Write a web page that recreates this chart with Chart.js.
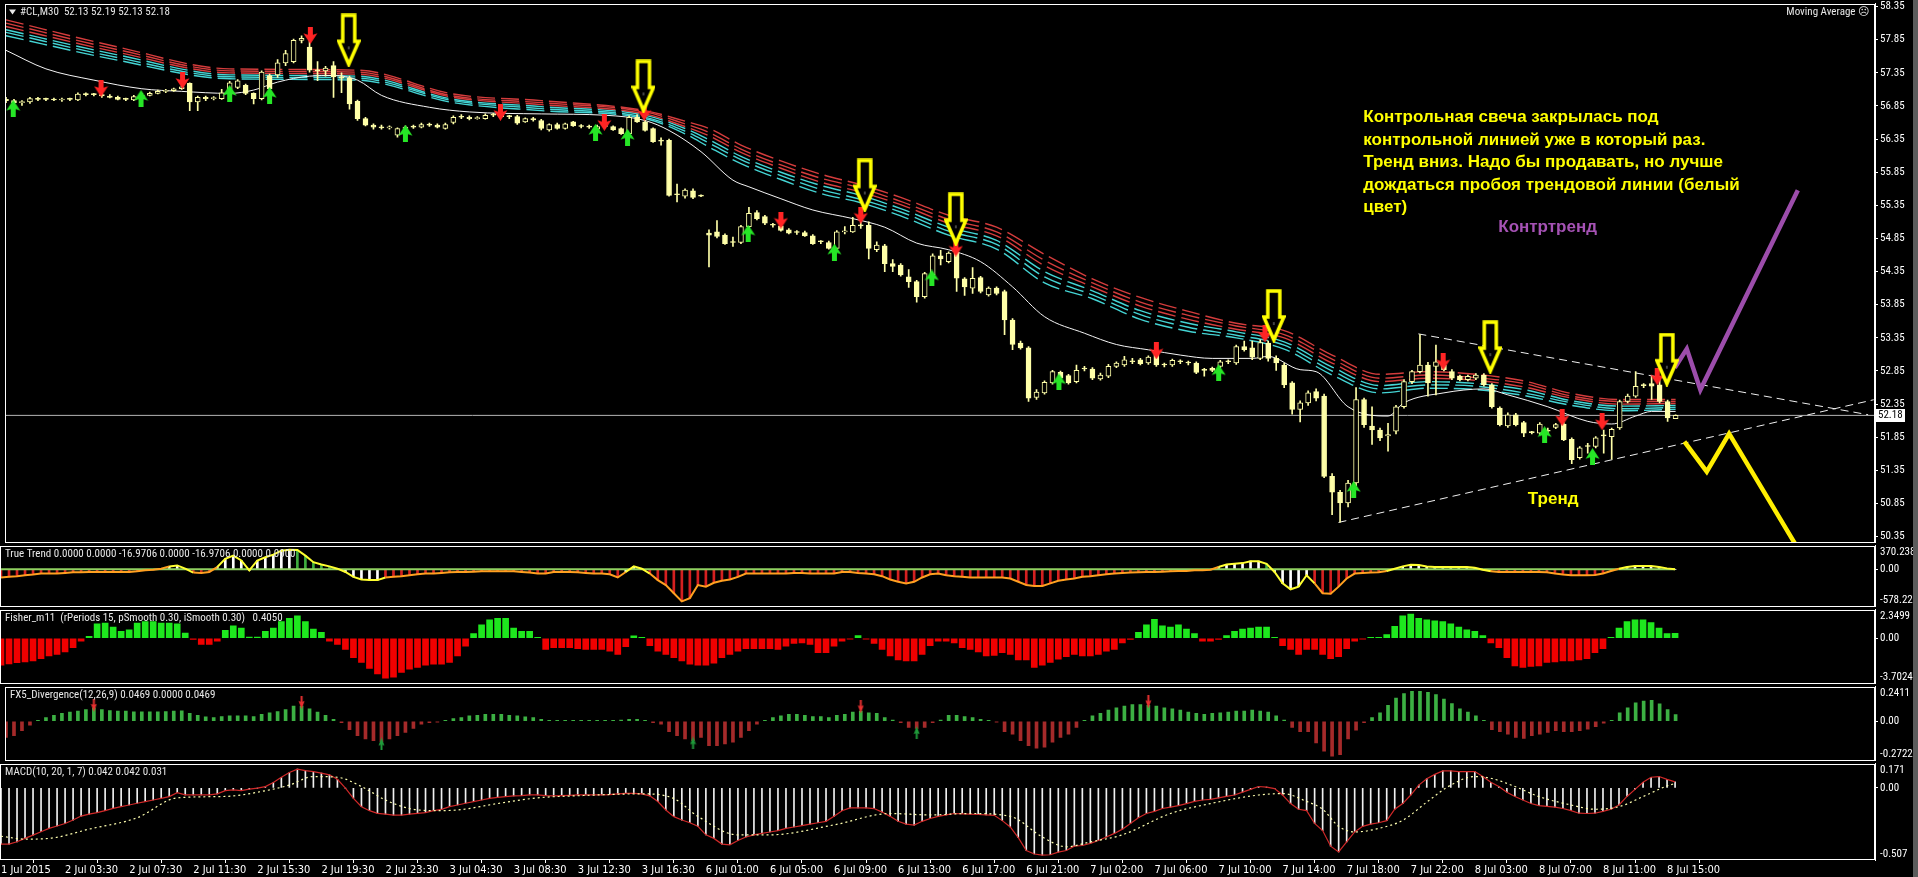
<!DOCTYPE html>
<html>
<head>
<meta charset="utf-8">
<script src="https://cdn.jsdelivr.net/npm/chart.js@4.4.1/dist/chart.umd.min.js"></script>
<style>
html, body { margin: 0; background: #000; overflow: hidden; }
#wrap { position: relative; width: 1918px; height: 877px; overflow: hidden; background: #000; }
#wrap canvas { position: absolute; left: 0; }
#edge { position: absolute; left: 1913px; top: 0; width: 5px; height: 877px; background: #5c5c5c; }
</style>
</head>
<body>
<div id="wrap">
  <canvas id="cMain" width="1918" height="556" style="top:-5px"></canvas>
  <canvas id="cTT" width="1918" height="78" style="top:537px"></canvas>
  <canvas id="cFisher" width="1918" height="91" style="top:601px"></canvas>
  <canvas id="cFx5" width="1918" height="91" style="top:678px"></canvas>
  <canvas id="cMacd" width="1918" height="122" style="top:755px"></canvas>
  <div id="edge"></div>
</div>
<script>
// ---- time axis (one label every 8 bars of M30) ----
const timeLabels = ['1 Jul 2015', '2 Jul 03:30', '2 Jul 07:30', '2 Jul 11:30', '2 Jul 15:30', '2 Jul 19:30',
  '2 Jul 23:30', '3 Jul 04:30', '3 Jul 08:30', '3 Jul 12:30', '3 Jul 16:30', '6 Jul 01:00', '6 Jul 05:00',
  '6 Jul 09:00', '6 Jul 13:00', '6 Jul 17:00', '6 Jul 21:00', '7 Jul 02:00', '7 Jul 06:00', '7 Jul 10:00',
  '7 Jul 14:00', '7 Jul 18:00', '7 Jul 22:00', '8 Jul 03:00', '8 Jul 07:00', '8 Jul 11:00', '8 Jul 15:00'];
const barsPerLabel = 8;

// ---- #CL,M30 candles ----
const opens = [
  56.95,56.93,56.90,56.91,56.96,56.95,56.95,56.94,56.95,56.94,
  57.03,57.02,57.02,57.00,56.98,56.95,56.94,56.96,57.01,57.04,
  57.07,57.08,57.11,57.19,56.91,56.98,56.96,56.96,57.10,57.13,
  57.16,57.04,56.96,57.31,57.32,57.50,57.52,57.84,57.74,57.39,
  57.38,57.46,57.29,57.27,56.92,56.66,56.56,56.53,56.52,56.41,
  56.51,56.53,56.53,56.57,56.56,56.51,56.60,56.68,56.68,56.66,
  56.66,56.71,56.71,56.69,56.69,56.61,56.66,56.63,56.49,56.57,
  56.51,56.61,56.55,56.54,56.50,56.54,56.54,56.51,56.43,56.68,
  56.61,56.51,56.32,56.33,55.51,55.49,55.57,55.49,54.93,54.95,
  54.90,54.79,54.79,55.03,55.24,55.18,55.05,55.04,54.98,54.94,
  54.94,54.89,54.80,54.79,54.70,54.95,54.95,55.04,55.05,54.68,
  54.74,54.47,54.45,54.27,54.20,53.97,54.30,54.59,54.50,54.65,
  54.24,54.10,54.26,54.00,54.10,54.05,53.62,53.27,53.20,52.45,
  52.52,52.67,52.83,52.78,52.69,52.88,52.88,52.73,52.77,52.92,
  52.94,52.99,53.02,52.97,53.10,52.94,52.94,52.99,52.97,52.97,
  52.86,52.89,52.92,52.99,52.97,53.22,53.20,53.04,53.27,53.04,
  52.94,52.67,52.27,52.37,52.54,52.47,51.26,51.02,50.86,51.16,
  52.42,52.02,51.96,51.87,51.94,52.31,52.69,52.84,52.94,52.92,
  52.94,52.84,52.77,52.72,52.74,52.79,52.64,52.29,52.02,52.19,
  52.07,51.92,51.91,51.94,52.00,52.05,51.82,51.54,51.71,51.71,
  51.87,51.86,51.99,52.39,52.47,52.63,52.66,52.64,52.39,52.13];
const highs = [
  56.98,56.95,56.93,56.98,56.98,56.97,56.97,56.97,56.97,57.05,
  57.05,57.04,57.05,57.02,57.00,56.97,57.01,57.04,57.06,57.09,
  57.10,57.12,57.17,57.20,57.00,57.00,56.99,57.10,57.22,57.25,
  57.18,57.05,57.38,57.33,57.55,57.69,57.86,57.91,57.88,57.52,
  57.45,57.52,57.35,57.30,56.94,56.68,56.58,56.56,56.55,56.52,
  56.55,56.56,56.59,56.59,56.58,56.59,56.70,56.72,56.70,56.69,
  56.73,56.74,56.73,56.71,56.71,56.67,56.68,56.65,56.58,56.59,
  56.59,56.62,56.57,56.56,56.56,56.56,56.55,56.52,56.70,56.72,
  56.63,56.52,56.37,56.35,55.67,55.60,55.60,55.51,54.98,55.12,
  54.92,54.87,55.05,55.32,55.27,55.20,55.08,55.06,55.00,54.97,
  54.96,54.91,54.82,54.81,54.97,55.03,55.17,55.10,55.10,54.80,
  54.76,54.53,54.47,54.38,54.22,54.34,54.62,54.67,54.65,54.67,
  54.26,54.41,54.28,54.12,54.12,54.07,53.64,53.30,53.22,52.57,
  52.70,52.86,52.85,52.80,52.94,52.92,52.90,52.82,52.95,52.99,
  53.07,53.04,53.04,53.08,53.12,52.97,53.03,53.02,53.00,52.99,
  52.89,52.91,53.01,53.02,53.24,53.30,53.30,53.32,53.30,53.08,
  52.97,52.69,52.40,52.55,52.58,52.50,51.30,51.05,51.20,52.60,
  52.44,52.31,51.99,52.06,52.33,52.72,52.86,53.40,52.98,53.24,
  52.97,52.87,52.79,52.79,52.81,52.81,52.66,52.31,52.22,52.21,
  52.09,51.94,52.07,51.99,52.06,52.07,51.84,51.71,51.76,51.86,
  51.96,51.99,52.41,52.50,52.84,52.66,52.77,52.77,52.41,52.19];
const lows = [
  56.90,56.88,56.86,56.89,56.93,56.93,56.93,56.92,56.93,56.93,
  57.00,57.00,56.98,56.97,56.94,56.93,56.93,56.94,57.00,57.03,
  57.05,57.07,57.10,56.78,56.78,56.93,56.94,56.95,57.08,57.11,
  57.02,56.88,56.94,57.09,57.28,57.46,57.50,57.80,57.36,57.23,
  57.30,56.98,57.05,56.80,56.63,56.55,56.50,56.50,56.50,56.38,
  56.48,56.51,56.52,56.54,56.52,56.50,56.58,56.66,56.64,56.65,
  56.65,56.69,56.68,56.66,56.57,56.60,56.62,56.49,56.47,56.50,
  56.50,56.54,56.52,56.51,56.48,56.52,56.48,56.42,56.42,56.60,
  56.47,56.30,56.26,55.49,55.40,55.46,55.45,55.48,54.42,54.86,
  54.76,54.73,54.77,55.00,55.13,55.06,55.02,54.96,54.92,54.91,
  54.88,54.76,54.77,54.69,54.68,54.92,54.94,55.00,54.54,54.65,
  54.35,54.35,54.28,54.11,53.89,53.95,54.28,54.45,54.48,54.05,
  53.99,54.02,54.03,53.98,54.00,53.40,53.17,53.18,52.39,52.42,
  52.50,52.65,52.72,52.65,52.67,52.85,52.72,52.71,52.75,52.90,
  52.92,52.96,52.94,52.95,52.92,52.91,52.92,52.96,52.94,52.81,
  52.77,52.84,52.90,52.96,52.95,53.15,53.02,53.02,53.00,52.86,
  52.60,52.20,52.08,52.33,52.40,51.24,50.68,50.57,50.80,51.12,
  52.00,51.74,51.80,51.64,51.90,52.29,52.66,52.82,52.47,52.49,
  52.85,52.72,52.70,52.70,52.72,52.62,52.29,52.02,52.00,52.02,
  51.86,51.90,51.89,51.90,51.98,51.80,51.45,51.52,51.61,51.69,
  51.61,51.52,51.97,52.37,52.45,52.60,52.42,52.37,52.09,52.13];
const closes = [
  56.93,56.90,56.91,56.96,56.95,56.95,56.94,56.95,56.95,57.03,
  57.02,57.02,57.00,56.98,56.95,56.95,56.99,57.01,57.04,57.07,
  57.08,57.11,57.14,56.91,56.98,56.96,56.97,57.05,57.20,57.23,
  57.04,56.96,57.36,57.11,57.50,57.64,57.84,57.87,57.39,57.38,
  57.42,57.29,57.27,56.88,56.66,56.56,56.53,56.52,56.53,56.51,
  56.53,56.53,56.57,56.56,56.53,56.57,56.68,56.68,56.66,56.67,
  56.71,56.71,56.69,56.69,56.59,56.66,56.64,56.51,56.57,56.51,
  56.58,56.55,56.54,56.53,56.54,56.54,56.49,56.43,56.68,56.61,
  56.48,56.31,56.32,55.50,55.51,55.58,55.47,55.49,54.90,54.88,
  54.77,54.79,55.03,55.23,55.15,55.08,55.05,54.97,54.93,54.94,
  54.89,54.77,54.80,54.70,54.95,54.96,55.05,55.04,54.70,54.75,
  54.47,54.43,54.30,54.20,53.97,54.32,54.59,54.54,54.63,54.25,
  54.12,54.25,54.05,54.10,54.02,53.62,53.25,53.20,52.44,52.53,
  52.68,52.84,52.74,52.67,52.86,52.88,52.74,52.79,52.92,52.97,
  53.02,52.99,52.96,53.06,52.94,52.94,53.01,52.99,52.97,52.83,
  52.86,52.86,52.99,52.99,53.22,53.17,53.06,53.28,53.04,52.97,
  52.64,52.27,52.37,52.52,52.44,51.26,51.02,50.86,51.16,52.42,
  52.04,51.96,51.84,51.89,52.31,52.69,52.84,52.94,52.67,52.99,
  52.87,52.74,52.72,52.77,52.79,52.64,52.31,52.04,52.19,52.04,
  51.91,51.92,52.05,51.94,52.04,51.81,51.51,51.69,51.71,51.84,
  51.87,51.97,52.39,52.47,52.62,52.63,52.62,52.39,52.14,52.18];

// ---- Moving Average ribbon (3 red + 3 cyan), sampled bars ----
const ribbonIdx = [0,14,28,44,56,67,80,85,88,92,97,102,107,112,118,124,130,136,142,148,154,160,166,172,178,184,190,196,202,209];
const ribbonRed1 = [58.15,57.74,57.41,57.39,57.03,56.93,56.78,56.62,56.51,56.26,56.02,55.82,55.66,55.47,55.20,55.02,54.61,54.24,53.96,53.75,53.57,53.46,53.09,52.80,52.84,52.80,52.70,52.51,52.42,52.42];
const ribbonRed2 = [58.10,57.70,57.38,57.36,57.00,56.90,56.76,56.58,56.45,56.20,55.96,55.76,55.61,55.41,55.14,54.95,54.52,54.18,53.89,53.69,53.53,53.40,53.03,52.74,52.79,52.75,52.66,52.47,52.39,52.39];
const ribbonRed3 = [58.05,57.66,57.35,57.33,56.98,56.87,56.73,56.54,56.40,56.15,55.91,55.70,55.55,55.36,55.08,54.89,54.44,54.12,53.83,53.63,53.48,53.35,52.97,52.69,52.74,52.71,52.61,52.44,52.35,52.36];
const ribbonCyan1 = [58.00,57.62,57.32,57.30,56.95,56.84,56.71,56.51,56.34,56.09,55.85,55.65,55.50,55.30,55.02,54.82,54.35,54.06,53.76,53.57,53.44,53.29,52.91,52.63,52.69,52.66,52.57,52.40,52.32,52.33];
const ribbonCyan2 = [57.96,57.58,57.29,57.27,56.93,56.81,56.68,56.47,56.29,56.04,55.80,55.59,55.44,55.25,54.96,54.76,54.27,54.00,53.70,53.51,53.39,53.24,52.85,52.58,52.64,52.62,52.52,52.37,52.28,52.30];
const ribbonCyan3 = [57.91,57.54,57.26,57.24,56.90,56.78,56.66,56.43,56.23,55.98,55.74,55.53,55.39,55.19,54.90,54.69,54.18,53.94,53.63,53.45,53.35,53.18,52.79,52.52,52.59,52.57,52.48,52.33,52.25,52.27];

// ---- white moving average ----
const maIdx = [0,5,11,17,22,28,31,34,38,41,44,47,53,58,67,75,80,83,87,91,93,97,101,106,110,114,118,122,126,130,135,139,143,147,151,156,158,162,164,168,173,175,180,185,188,193,198,201,204,206,209];
const maVals = [57.69,57.41,57.24,57.11,57.07,57.04,57.09,57.21,57.30,57.31,57.24,57.01,56.83,56.76,56.73,56.71,56.63,56.48,56.16,55.73,55.63,55.45,55.28,55.15,55.02,54.78,54.68,54.50,54.12,53.67,53.42,53.25,53.17,53.09,53.04,53.04,53.07,52.87,52.84,52.31,52.17,52.37,52.52,52.58,52.49,52.31,52.09,52.05,52.17,52.24,52.24];

// ---- signal arrows on price [bar, price] ----
const sellArrows = [[11.9,57.115],[22.1,57.236],[38.1,57.913],[61.9,56.754],[74.9,56.603],[79.9,56.754],[97.0,55.127],[107.0,55.202],[118.9,54.705],[144.0,53.154],[157.6,53.41],[179.9,52.989],[194.8,52.145],[199.8,52.085],[206.7,52.763]];
const buyArrows = [[0.9,56.814],[16.9,56.964],[28.0,57.04],[33.0,57.01],[50.0,56.437],[73.8,56.452],[77.8,56.377],[92.9,54.931],[103.7,54.645],[115.9,54.254],[131.8,52.687],[151.8,52.823],[168.7,51.061],[192.6,51.889],[198.6,51.558]];
const markArrows = [[42.9,57.84],[79.8,57.145],[107.5,55.65],[118.9,55.14],[158.7,53.68],[185.8,53.21],[207.9,53.02]];

// ---- hand-drawn lines [bar, price] ----
const trendUpper = [[176.8,53.41],[233.1,52.19]];
const trendLower = [[166.8,50.564],[233.8,52.416]];
const purplePath = [[208.9,52.898],[210.4,53.184],[212.1,52.567],[224.3,55.579]];
const yellowPath = [[210.1,51.784],[212.9,51.332],[215.7,51.904],[224.0,50.233]];
const priceTicks = [58.35,57.85,57.35,56.85,56.35,55.85,55.35,54.85,54.35,53.85,53.35,52.85,52.35,51.85,51.35,50.85,50.35];

const noteLines = ['Контрольная свеча закрылась под', 'контрольной линией уже в который раз.',
  'Тренд вниз. Надо бы продавать, но лучше', 'дождаться пробоя трендовой линии (белый', 'цвет)'];
const notes = [
  { text: 'Контртренд', x: 186.8, y: 55.02, color: '#a552b4' },
  { text: 'Тренд', x: 190.5, y: 50.91, color: '#ffff00' }
];

// ---- True Trend ----
const ttVals = [
  -127,-117,-107,-92,-82,-66,-66,-66,-56,-46,
  -46,-41,-41,-41,-41,-41,-41,-31,-15,-5,
  10,46,61,10,-51,-56,-41,36,163,214,
  138,-15,138,189,229,291,306,301,214,112,
  76,46,10,-41,-117,-158,-168,-168,-127,-117,
  -107,-92,-76,-66,-66,-56,-46,-41,-41,-36,
  -31,-31,-31,-31,-31,-41,-51,-66,-66,-41,
  -41,-41,-46,-56,-66,-66,-76,-127,-41,46,
  10,-66,-168,-245,-372,-500,-449,-245,-270,-209,
  -178,-158,-117,-66,-66,-66,-66,-66,-66,-56,
  -56,-66,-66,-66,-66,-41,-41,-56,-66,-76,
  -107,-158,-194,-219,-194,-127,-76,-66,-92,-107,
  -117,-127,-127,-127,-127,-127,-143,-194,-245,-260,
  -260,-219,-178,-158,-143,-117,-107,-92,-76,-66,
  -56,-51,-46,-41,-41,-36,-31,-26,-26,-15,
  -15,-5,36,76,87,97,127,127,87,-41,
  -219,-311,-270,-92,-219,-372,-382,-270,-143,-66,
  -56,-51,-46,-26,10,46,71,66,46,36,
  36,36,36,36,25,-5,-31,-41,-41,-41,
  -41,-41,-41,-46,-66,-82,-92,-92,-92,-87,
  -66,-26,10,36,51,51,51,36,15,0];
const ttRuns = [['r',21],['w',3],['r',3],['w',10],['g',5],['w',6],['r',30],['w',3],['r',71],['w',6],['g',1],['w',5],['r',9],['w',13],['r',16],['w',8]];

// ---- Fisher_m11 ----
const fisherVals = [
  -2.20,-2.10,-2.00,-1.94,-1.86,-1.67,-1.45,-1.32,-1.13,-0.78,
  -0.24,0.16,1.18,1.24,0.91,0.56,0.70,1.24,1.37,1.37,
  1.24,1.24,1.18,0.43,-0.10,-0.51,-0.51,-0.24,0.65,1.02,
  0.83,0.10,0.10,0.56,0.83,1.37,1.64,1.83,1.37,0.75,
  0.48,-0.24,-0.51,-0.91,-1.59,-1.99,-2.47,-2.93,-3.28,-3.20,
  -2.80,-2.53,-2.39,-2.20,-2.12,-2.12,-1.99,-1.45,-0.65,0.38,
  1.10,1.51,1.64,1.64,0.83,0.56,0.56,0.02,-0.91,-0.78,
  -0.78,-0.78,-0.86,-0.91,-0.91,-0.91,-1.05,-1.32,-0.70,0.20,
  0.05,-0.60,-1.05,-1.32,-1.59,-1.85,-2.12,-2.20,-2.20,-2.04,
  -1.59,-1.32,-1.05,-0.86,-0.86,-0.86,-0.86,-0.91,-0.65,-0.43,
  -0.38,-0.51,-1.18,-1.18,-0.65,-0.24,-0.02,0.21,-0.05,-0.43,
  -0.91,-1.45,-1.77,-1.85,-1.85,-1.32,-0.60,-0.24,-0.24,-0.38,
  -0.78,-0.91,-1.13,-1.45,-1.40,-1.18,-1.32,-1.77,-1.77,-2.39,
  -2.20,-1.99,-1.72,-1.51,-1.32,-1.45,-1.45,-1.32,-1.05,-0.91,
  -0.38,-0.10,0.48,1.10,1.56,1.02,0.91,1.10,0.75,0.38,
  -0.24,-0.24,-0.10,0.21,0.56,0.75,0.83,0.91,0.91,0.08,
  -0.60,-0.91,-1.32,-0.91,-0.91,-1.32,-1.67,-1.51,-0.86,-0.24,
  -0.05,0.02,0.03,0.30,0.97,1.83,1.99,1.64,1.51,1.42,
  1.37,1.18,0.91,0.70,0.56,0.21,-0.38,-0.78,-1.59,-2.26,
  -2.39,-2.31,-2.26,-1.99,-1.94,-1.85,-1.85,-1.77,-1.67,-1.18,
  -0.86,0.08,0.83,1.37,1.51,1.51,1.29,0.83,0.38,0.405];

// ---- FX5_Divergence ----
const fx5Vals = [
  -0.112,-0.100,-0.066,-0.027,0.002,0.025,0.041,0.055,0.064,0.071,
  0.082,0.094,0.082,0.075,0.071,0.071,0.066,0.066,0.066,0.066,
  0.068,0.071,0.073,0.055,0.041,0.030,0.025,0.032,0.037,0.037,
  0.037,0.032,0.048,0.059,0.068,0.082,0.105,0.105,0.087,0.064,
  0.041,0.014,-0.009,-0.059,-0.100,-0.123,-0.135,-0.142,-0.123,-0.100,
  -0.078,-0.050,-0.020,-0.009,-0.005,0.007,0.018,0.025,0.037,0.041,
  0.048,0.048,0.048,0.041,0.037,0.030,0.025,0.014,0.007,0.007,
  0.007,0.007,0.007,0.007,0.007,0.007,0.007,0.009,0.014,0.014,
  0.007,-0.009,-0.020,-0.073,-0.100,-0.123,-0.135,-0.112,-0.169,-0.169,
  -0.158,-0.146,-0.112,-0.066,-0.020,0.002,0.025,0.037,0.048,0.048,
  0.041,0.032,0.032,0.025,0.041,0.048,0.064,0.071,0.059,0.055,
  0.025,0.009,-0.009,-0.043,-0.050,-0.043,-0.009,0.009,0.041,0.041,
  0.032,0.025,0.014,0.005,-0.005,-0.073,-0.089,-0.135,-0.169,-0.187,
  -0.180,-0.146,-0.112,-0.089,-0.043,0.007,0.037,0.055,0.078,0.094,
  0.105,0.116,0.116,0.110,0.105,0.094,0.087,0.078,0.064,0.055,
  0.048,0.055,0.059,0.064,0.071,0.071,0.078,0.071,0.064,0.037,
  0.009,-0.043,-0.073,-0.073,-0.151,-0.208,-0.242,-0.233,-0.123,-0.062,
  -0.009,0.025,0.059,0.110,0.162,0.192,0.208,0.208,0.201,0.185,
  0.155,0.123,0.087,0.064,0.037,0.002,-0.059,-0.073,-0.089,-0.112,
  -0.119,-0.100,-0.089,-0.078,-0.066,-0.073,-0.073,-0.066,-0.055,-0.037,
  -0.014,0.007,0.059,0.094,0.128,0.141,0.146,0.121,0.082,0.0469];
const fx5Sell = [[11,0.11],[37,0.13],[107,0.10],[143,0.135]];
const fx5Buy = [[47,-0.158],[86,-0.15],[114,-0.078]];

// ---- MACD(10,20,1,7) ----
const macdVals = [
  -0.395,-0.395,-0.379,-0.355,-0.332,-0.308,-0.285,-0.268,-0.250,-0.226,
  -0.198,-0.184,-0.174,-0.160,-0.144,-0.132,-0.120,-0.108,-0.097,-0.085,
  -0.073,-0.061,-0.033,-0.049,-0.049,-0.049,-0.049,-0.042,-0.019,-0.014,
  -0.019,-0.009,-0.002,0.009,0.038,0.075,0.108,0.132,0.122,0.115,
  0.104,0.092,0.061,-0.002,-0.073,-0.132,-0.160,-0.179,-0.184,-0.191,
  -0.191,-0.184,-0.179,-0.174,-0.160,-0.151,-0.132,-0.120,-0.108,-0.097,
  -0.085,-0.073,-0.066,-0.061,-0.056,-0.054,-0.049,-0.049,-0.054,-0.056,
  -0.054,-0.052,-0.049,-0.049,-0.049,-0.049,-0.047,-0.042,-0.038,-0.038,
  -0.042,-0.056,-0.096,-0.155,-0.202,-0.226,-0.245,-0.270,-0.330,-0.355,
  -0.395,-0.400,-0.370,-0.345,-0.330,-0.320,-0.310,-0.300,-0.285,-0.275,
  -0.265,-0.255,-0.245,-0.235,-0.200,-0.160,-0.140,-0.140,-0.140,-0.145,
  -0.170,-0.200,-0.235,-0.255,-0.262,-0.235,-0.215,-0.200,-0.190,-0.180,
  -0.182,-0.184,-0.187,-0.190,-0.193,-0.230,-0.275,-0.350,-0.440,-0.465,
  -0.473,-0.470,-0.452,-0.440,-0.410,-0.405,-0.390,-0.370,-0.345,-0.320,
  -0.290,-0.250,-0.210,-0.180,-0.165,-0.145,-0.135,-0.125,-0.110,-0.095,
  -0.085,-0.080,-0.070,-0.060,-0.050,-0.030,-0.010,0.010,0.005,-0.005,
  -0.050,-0.110,-0.150,-0.160,-0.250,-0.300,-0.410,-0.450,-0.380,-0.310,
  -0.270,-0.255,-0.245,-0.230,-0.150,-0.110,-0.050,0.020,0.065,0.095,
  0.120,0.120,0.115,0.115,0.115,0.080,0.040,0.010,-0.030,-0.060,
  -0.085,-0.110,-0.125,-0.130,-0.135,-0.145,-0.160,-0.178,-0.180,-0.178,
  -0.165,-0.150,-0.120,-0.060,-0.010,0.040,0.075,0.080,0.060,0.042];
const signalIdx = [0,3,6,11,17,22,28,33,36,39,42,45,48,51,54,57,62,67,72,80,84,87,92,96,104,111,116,121,126,130,133,136,140,146,151,157,160,163,165,167,169,172,175,178,181,184,186,189,192,196,199,202,205,208,209];
const signalVals = [-0.34,-0.36,-0.355,-0.29,-0.21,-0.07,-0.06,-0.02,0.02,0.08,0.075,0.01,-0.085,-0.145,-0.16,-0.155,-0.11,-0.07,-0.055,-0.042,-0.075,-0.20,-0.33,-0.33,-0.26,-0.18,-0.19,-0.18,-0.20,-0.345,-0.414,-0.38,-0.33,-0.18,-0.11,-0.05,-0.04,-0.095,-0.15,-0.27,-0.31,-0.285,-0.228,-0.10,0.02,0.08,0.068,0.01,-0.061,-0.12,-0.15,-0.132,-0.061,0.014,0.031];

// ---- layout / style ----
const X_MIN = -0.125, X_MAX = 233.96;
const PRICE_MIN = 50.263, PRICE_MAX = 58.395;
const axisFont = { family: 'Roboto, sans-serif', size: 11, weight: 'normal condensed' };
const timeFont = { family: "'DejaVu Sans Condensed', sans-serif", size: 11 };
const smallText = 'normal condensed 11px Roboto, sans-serif';
const candleColor = '#ffffa8';
const bars = closes.map((c, i) => i);
const pts = arr => arr.map(p => ({ x: p[0], y: p[1] }));
const idxPts = (idx, vals) => idx.map((x, k) => ({ x: x, y: vals[k] }));

Chart.defaults.animation = false;
Chart.defaults.events = [];
Chart.defaults.plugins.legend.display = false;
Chart.defaults.plugins.tooltip.enabled = false;

function xScale(show) {
  const s = {
    type: 'linear', min: X_MIN, max: X_MAX, offset: false, display: show,
    afterBuildTicks: sc => { sc.ticks = timeLabels.map((t, k) => ({ value: k * barsPerLabel })); },
    ticks: { callback: (v, k) => timeLabels[k], align: 'start', color: '#fff', font: timeFont, padding: 1, maxRotation: 0, autoSkip: false },
    grid: { drawOnChartArea: false, drawTicks: true, tickLength: 3, color: '#fff' },
    border: { display: false }
  };
  if (show) s.afterFit = sc => { sc.height = 17; };
  return s;
}
function yScale(min, max, values, texts, marked) {
  return {
    type: 'linear', position: 'right', min: min, max: max,
    afterBuildTicks: s => { s.ticks = values.map(v => ({ value: v })); },
    afterFit: s => { s.width = 43; },
    ticks: { callback: (v, k) => texts[k], color: '#fff', font: axisFont, padding: 2, autoSkip: false },
    grid: { drawOnChartArea: false, drawTicks: true, tickLength: 3, tickColor: c => marked(c.index) ? '#fff' : 'rgba(0,0,0,0)' },
    border: { display: true, color: '#fff' }
  };
}
// indicator axis: top/bottom labels sit just inside the panel, like the terminal draws them
function indicatorAxis(min, max, panelH, texts) {
  const r = max - min;
  return yScale(min, max, [max - r * 7 / panelH, 0, min + r * 6 / panelH], texts, k => k === 1);
}
function framePlugin(title) {
  return {
    id: 'frame',
    afterDraw(chart) {
      const { ctx, chartArea: a } = chart;
      ctx.save();
      ctx.strokeStyle = '#fff';
      ctx.lineWidth = 1;
      ctx.strokeRect(Math.round(a.left) + 0.5, Math.round(a.top) + 0.5, Math.round(a.right - a.left) - 1, Math.round(a.bottom - a.top) - 1);
      if (title) {
        ctx.fillStyle = '#e8e8e8';
        ctx.font = smallText;
        ctx.textBaseline = 'middle';
        ctx.fillText(title, a.left + 5, a.top + 8.5);
      }
      ctx.restore();
    }
  };
}

// ---- marker images ----
function hollowArrow() {
  const c = document.createElement('canvas');
  c.width = 24; c.height = 54;
  const g = c.getContext('2d');
  g.beginPath();
  g.moveTo(6, 2); g.lineTo(18, 2); g.lineTo(18, 28); g.lineTo(22, 28);
  g.lineTo(12, 51); g.lineTo(2, 28); g.lineTo(6, 28); g.closePath();
  g.fillStyle = '#000'; g.fill();
  g.strokeStyle = '#ffff00'; g.lineWidth = 3.5; g.lineJoin = 'miter'; g.stroke();
  g.fillStyle = '#444'; g.fillRect(11, 33, 2, 3);
  return c;
}
function solidArrow(color, up, w, h, stem) {
  const c = document.createElement('canvas');
  c.width = w; c.height = h;
  const g = c.getContext('2d');
  g.fillStyle = color;
  g.translate(0, up ? h : 0);
  g.scale(1, up ? -1 : 1);
  const m = w / 2, sh = h * 0.45;
  g.beginPath();
  g.moveTo(m - stem / 2, 0); g.lineTo(m + stem / 2, 0); g.lineTo(m + stem / 2, sh);
  g.lineTo(w - 0.5, sh - h * 0.08); g.lineTo(m, h); g.lineTo(0.5, sh - h * 0.08); g.lineTo(m - stem / 2, sh);
  g.closePath(); g.fill();
  return c;
}
const imgMark = hollowArrow();
const imgSell = solidArrow('#ff2424', false, 15, 17, 5);
const imgBuy = solidArrow('#26e626', true, 15, 17, 5);
const imgFxSell = solidArrow('#e83030', false, 7, 13, 2);
const imgFxBuy = solidArrow('#1f9a3a', true, 7, 13, 2);

// ---- main price chart ----
const mainPlugin = {
  id: 'mainText',
  afterDraw(chart) {
    const { ctx, chartArea: a, scales } = chart;
    const last = closes.length - 1;
    ctx.save();
    ctx.fillStyle = '#e8e8e8';
    ctx.beginPath(); ctx.moveTo(a.left + 4, a.top + 6); ctx.lineTo(a.left + 11, a.top + 6); ctx.lineTo(a.left + 7.5, a.top + 11); ctx.closePath(); ctx.fill();
    ctx.font = smallText; ctx.textBaseline = 'middle';
    ctx.fillText('#CL,M30  ' + [opens[last], highs[last], lows[last], closes[last]].map(v => v.toFixed(2)).join(' '), a.left + 15, a.top + 8.5);
    ctx.textAlign = 'right';
    ctx.fillText('Moving Average \u2639', a.right - 6, a.top + 8.5);
    ctx.textAlign = 'left';
    // notes
    ctx.font = 'bold 17px "Liberation Sans", Arial, sans-serif';
    ctx.fillStyle = '#ffff00';
    const nx = scales.x.getPixelForValue(169.9), ny = scales.y.getPixelForValue(56.678);
    noteLines.forEach((t, k) => ctx.fillText(t, nx, ny + k * 22.6));
    notes.forEach(n => { ctx.fillStyle = n.color; ctx.fillText(n.text, scales.x.getPixelForValue(n.x), scales.y.getPixelForValue(n.y)); });
    // current price box
    const py = Math.round(scales.y.getPixelForValue(closes[last]));
    ctx.fillStyle = '#fff';
    ctx.fillRect(a.right + 1, py - 6, 29, 13);
    ctx.fillStyle = '#000'; ctx.font = smallText;
    ctx.fillText(closes[last].toFixed(2), a.right + 3, py + 0.5);
    ctx.restore();
  }
};

function ribbonLine(vals, color) {
  return { type: 'line', data: idxPts(ribbonIdx, vals), borderColor: color, borderWidth: 1.4, borderDash: [18, 6], pointRadius: 0, order: 10, cubicInterpolationMode: 'monotone' };
}

new Chart(document.getElementById('cMain'), {
  type: 'bar',
  data: {
    datasets: [
      ribbonLine(ribbonRed1, '#d43c3c'), ribbonLine(ribbonRed2, '#d43c3c'), ribbonLine(ribbonRed3, '#d43c3c'),
      ribbonLine(ribbonCyan1, '#44d4d4'), ribbonLine(ribbonCyan2, '#44d4d4'), ribbonLine(ribbonCyan3, '#44d4d4'),
      { type: 'line', data: idxPts(maIdx, maVals), borderColor: '#f4f4f4', borderWidth: 1, pointRadius: 0, order: 9, cubicInterpolationMode: 'monotone' },
      { type: 'line', data: [{ x: X_MIN, y: closes[closes.length - 1] }, { x: X_MAX, y: closes[closes.length - 1] }], borderColor: '#b4b4b4', borderWidth: 1, pointRadius: 0, order: 9 },
      { type: 'line', data: pts(trendUpper), borderColor: '#f0f0f0', borderWidth: 1, borderDash: [8, 5], pointRadius: 0, order: 8 },
      { type: 'line', data: pts(trendLower), borderColor: '#f0f0f0', borderWidth: 1, borderDash: [8, 5], pointRadius: 0, order: 8 },
      { data: bars.map(i => ({ x: i, y: [lows[i], highs[i]] })), backgroundColor: candleColor, barThickness: 1, grouped: false, order: 7 },
      { data: bars.map(i => ({ x: i, y: [opens[i], closes[i]] })), backgroundColor: bars.map(i => closes[i] > opens[i] ? '#000' : candleColor),
        borderColor: candleColor, borderWidth: 1, borderSkipped: false, barThickness: 5, minBarLength: 1, grouped: false, order: 6 },
      { type: 'line', data: pts(purplePath), borderColor: '#9c4dab', borderWidth: 4.5, pointRadius: 0, order: 5 },
      { type: 'line', data: pts(yellowPath), borderColor: '#ffee00', borderWidth: 4.5, pointRadius: 0, order: 5 },
      { type: 'scatter', data: pts(sellArrows), pointStyle: imgSell, order: 3 },
      { type: 'scatter', data: pts(buyArrows), pointStyle: imgBuy, order: 3 },
      { type: 'scatter', data: pts(markArrows), pointStyle: imgMark, order: 2 }
    ]
  },
  options: {
    responsive: false,
    layout: { padding: { top: 8, bottom: 8, left: 0, right: 0 } },
    scales: {
      x: xScale(false),
      y: yScale(PRICE_MIN, PRICE_MAX, priceTicks, priceTicks.map(v => v.toFixed(2)), () => true)
    }
  },
  plugins: [framePlugin(''), mainPlugin]
});

// ---- True Trend ----
const ttState = [];
ttRuns.forEach(r => { for (let k = 0; k < r[1]; k++) ttState.push(r[0]); });
const ttBarColor = { r: '#d42020', w: '#ffffff', g: '#3fae3f' };
new Chart(document.getElementById('cTT'), {
  type: 'bar',
  data: {
    datasets: [
      { type: 'line', data: [{ x: 0, y: 0 }, { x: bars.length - 1, y: 0 }], borderColor: '#8fd060', borderWidth: 2, pointRadius: 0, order: 2 },
      { type: 'line', data: bars.map(i => ({ x: i, y: ttVals[i] })), borderWidth: 2, pointRadius: 0, order: 1,
        borderColor: '#ffb020', segment: { borderColor: c => ttState[c.p0DataIndex] === 'r' ? '#ffa020' : '#ffff30' } },
      { data: bars.map(i => ({ x: i, y: ttVals[i] })), backgroundColor: bars.map(i => ttBarColor[ttState[i]]), barThickness: 2, order: 3 }
    ]
  },
  options: {
    responsive: false,
    layout: { padding: { top: 8, bottom: 8, left: 0, right: 0 } },
    scales: { x: xScale(false), y: indicatorAxis(-578.226, 370.2382, 62, ['370.2382', '0.00', '-578.226']) }
  },
  plugins: [framePlugin('True Trend 0.0000 0.0000 -16.9706 0.0000 -16.9706 0.0000 0.0000')]
});

// ---- Fisher ----
new Chart(document.getElementById('cFisher'), {
  type: 'bar',
  data: {
    datasets: [
      { data: bars.map(i => ({ x: i, y: fisherVals[i] })), backgroundColor: bars.map(i => fisherVals[i] >= 0 ? '#1ee81e' : '#f00000'), barThickness: 6, minBarLength: 1 }
    ]
  },
  options: {
    responsive: false,
    layout: { padding: { top: 8, bottom: 8, left: 0, right: 0 } },
    scales: { x: xScale(false), y: indicatorAxis(-3.7024, 2.3499, 75, ['2.3499', '0.00', '-3.7024']) }
  },
  plugins: [framePlugin('Fisher_m11  (rPeriods 15, pSmooth 0.30, iSmooth 0.30)   0.4050')]
});

// ---- FX5 Divergence ----
new Chart(document.getElementById('cFx5'), {
  type: 'bar',
  data: {
    datasets: [
      { data: bars.map(i => ({ x: i, y: fx5Vals[i] })), backgroundColor: bars.map(i => fx5Vals[i] >= 0 ? '#3cb043' : '#a52a2a'), barThickness: 3, minBarLength: 1, order: 2 },
      { type: 'scatter', data: pts(fx5Sell), pointStyle: imgFxSell, order: 1 },
      { type: 'scatter', data: pts(fx5Buy), pointStyle: imgFxBuy, order: 1 }
    ]
  },
  options: {
    responsive: false,
    layout: { padding: { top: 8, bottom: 8, left: 0, right: 0 } },
    scales: { x: xScale(false), y: indicatorAxis(-0.2722, 0.2411, 75, ['0.2411', '0.00', '-0.2722']) }
  },
  plugins: [framePlugin('FX5_Divergence(12,26,9) 0.0469 0.0000 0.0469')]
});

// ---- MACD ----
new Chart(document.getElementById('cMacd'), {
  type: 'bar',
  data: {
    datasets: [
      { data: bars.map(i => ({ x: i, y: macdVals[i] })), backgroundColor: '#f0f0f0', barThickness: 1, order: 3 },
      { type: 'line', data: bars.map(i => ({ x: i, y: macdVals[i] })), borderColor: '#d02828', borderWidth: 1.2, pointRadius: 0, order: 2 },
      { type: 'line', data: idxPts(signalIdx, signalVals), borderColor: '#ffffb0', borderWidth: 1.2, borderDash: [2, 3], pointRadius: 0, order: 1, cubicInterpolationMode: 'monotone' }
    ]
  },
  options: {
    responsive: false,
    layout: { padding: { top: 8, bottom: 0, left: 0, right: 0 } },
    scales: { x: xScale(true), y: indicatorAxis(-0.507, 0.171, 97, ['0.171', '0.00', '-0.507']) }
  },
  plugins: [framePlugin('MACD(10, 20, 1, 7) 0.042 0.042 0.031')]
});
</script>
</body>
</html>
